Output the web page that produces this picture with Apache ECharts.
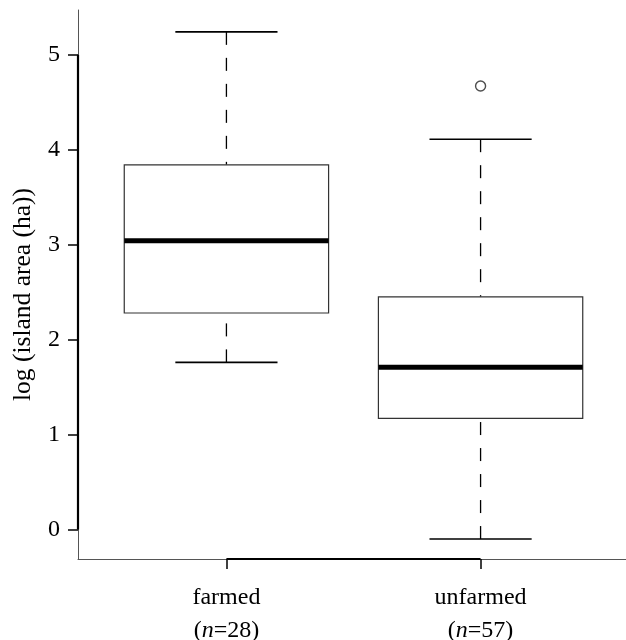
<!DOCTYPE html>
<html>
<head>
<meta charset="utf-8">
<script src="https://cdn.jsdelivr.net/npm/echarts@6/dist/echarts.min.js"></script>
<style>
  html, body { margin: 0; padding: 0; background: #fff; }
  #main { width: 626px; height: 640px; }
</style>
</head>
<body>
<div id="main"></div>
<script>
// groups and sample sizes
var groups = ['farmed', 'unfarmed'];
var counts = [28, 57];
// box stats: [lower whisker, Q1, median, Q3, upper whisker]
var farmedStats = [1.76, 2.28, 3.04, 3.84, 5.24];
var unfarmedStats = [-0.10, 1.17, 1.71, 2.45, 4.11];
// outliers [group position, value]
var outliers = [[2, 4.67]];
var yTicks = [0, 1, 2, 3, 4, 5];

var FONT = '"Liberation Serif", "DejaVu Serif", serif';
var xMin = 0.416, xMax = 2.584;
var yMin = -0.31, yMax = 5.47;

var boxData = [[1].concat(farmedStats), [2].concat(unfarmedStats)];

function renderBox(params, api) {
  var x = api.value(0);
  var lo = api.value(1), q1 = api.value(2), med = api.value(3), q3 = api.value(4), hi = api.value(5);
  var bw = 0.402, cw = 0.201;
  var bl = api.coord([x - bw, q3]), br = api.coord([x + bw, q1]);
  var c = function (xx, yy) { return api.coord([xx, yy]); };
  var whisk = { stroke: '#000', lineWidth: 1.3, lineDash: [13, 13] };
  var capS = { stroke: '#000', lineWidth: 1.6 };
  return {
    type: 'group',
    children: [
      // whiskers drawn from the cap towards the box, like R
      { type: 'line', shape: { x1: c(x, hi)[0], y1: c(x, hi)[1], x2: c(x, q3)[0], y2: c(x, q3)[1] }, style: whisk },
      { type: 'line', shape: { x1: c(x, lo)[0], y1: c(x, lo)[1], x2: c(x, q1)[0], y2: c(x, q1)[1] }, style: whisk },
      { type: 'line', shape: { x1: c(x - cw, hi)[0], y1: c(x - cw, hi)[1], x2: c(x + cw, hi)[0], y2: c(x + cw, hi)[1] }, style: capS },
      { type: 'line', shape: { x1: c(x - cw, lo)[0], y1: c(x - cw, lo)[1], x2: c(x + cw, lo)[0], y2: c(x + cw, lo)[1] }, style: capS },
      { type: 'rect', shape: { x: bl[0], y: bl[1], width: br[0] - bl[0], height: br[1] - bl[1] },
        style: { fill: '#fff', stroke: '#333', lineWidth: 1.2 } },
      { type: 'line', shape: { x1: bl[0], y1: c(x, med)[1], x2: br[0], y2: c(x, med)[1] },
        style: { stroke: '#000', lineWidth: 5 } }
    ]
  };
}

var myChart = echarts.init(document.getElementById('main'), null, { renderer: 'canvas' });

var option = {
  animation: false,
  backgroundColor: '#fff',
  grid: { left: 78, top: 10, width: 551, bottom: 81, containLabel: false, outerBoundsMode: 'none' },
  xAxis: {
    type: 'value', min: xMin, max: xMax,
    splitLine: { show: false },
    axisLine: { show: true, onZero: false, lineStyle: { color: '#555', width: 1 } },
    axisTick: { show: true, customValues: [1, 2], length: 10, lineStyle: { color: '#000', width: 1.5 } },
    axisLabel: {
      customValues: [1, 2], margin: 22, color: '#000', fontFamily: FONT, fontSize: 24, lineHeight: 33,
      formatter: function (v) {
        var i = Math.round(v) - 1;
        return '{a|' + groups[i] + '}\n{a|(}{i|n}{a|=' + counts[i] + ')}';
      },
      rich: {
        a: { fontFamily: FONT, fontSize: 24, color: '#000', lineHeight: 33 },
        i: { fontFamily: FONT, fontSize: 24, color: '#000', fontStyle: 'italic', lineHeight: 33 }
      }
    }
  },
  yAxis: {
    type: 'value', min: yMin, max: yMax,
    name: 'log (island area (ha))', nameLocation: 'middle', nameGap: 42, nameRotate: 90,
    nameTextStyle: { fontFamily: FONT, fontSize: 25.5, color: '#000', padding: [0, 20, 0, 0] },
    splitLine: { show: false },
    axisLine: { show: true, onZero: false, lineStyle: { color: '#555', width: 1 } },
    axisTick: { show: true, customValues: yTicks, length: 10, lineStyle: { color: '#000', width: 1.5 } },
    axisLabel: { customValues: yTicks, margin: 18, color: '#000', fontFamily: FONT, fontSize: 24 }
  },
  series: [
    {
      // thick axis segments between first and last ticks (R axis style)
      type: 'line', data: [[xMin, yTicks[0]], [xMin, yTicks[yTicks.length - 1]]],
      symbol: 'none', clip: false, silent: true,
      lineStyle: { color: '#000', width: 2.2 }
    },
    {
      type: 'line', data: [[1, yMin], [2, yMin]],
      symbol: 'none', clip: false, silent: true,
      lineStyle: { color: '#000', width: 2.2 }
    },
    {
      type: 'custom', renderItem: renderBox, data: boxData,
      encode: { x: 0, y: [1, 2, 3, 4, 5] }, clip: false
    },
    {
      type: 'scatter', data: outliers, symbol: 'circle', symbolSize: 10, z: 5,
      itemStyle: { color: '#fff', borderColor: '#222', borderWidth: 1.4 }
    }
  ]
};

myChart.setOption(option);
</script>
</body>
</html>
